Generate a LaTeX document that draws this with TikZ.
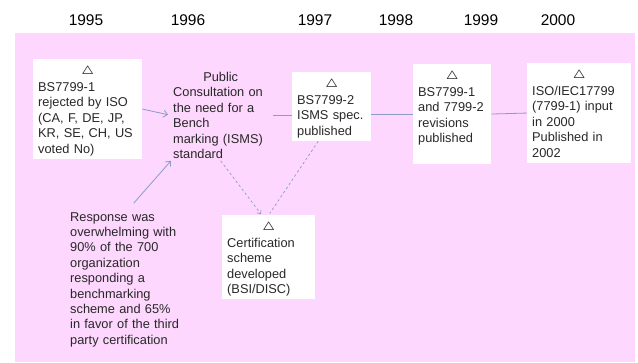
\documentclass[tikz,border=0pt]{standalone}
\usepackage{fontspec}
\setmainfont{Liberation Sans}
\usetikzlibrary{arrows.meta}
\definecolor{bgpink}{RGB}{253,215,253}
\definecolor{linkblue}{RGB}{140,155,200}
\definecolor{txtgray}{RGB}{40,40,40}
\newcommand{\evtri}{\makebox[\hsize]{\rule{0pt}{14pt}\raisebox{1.5pt}{\fontsize{12}{14}\selectfont\boldmath$\triangle$}}}
\newcommand{\evend}{\rule[-2.7pt]{0pt}{1pt}}
\tikzset{
  evbox/.style={fill=white, anchor=north west, align=left, inner xsep=5pt, inner ysep=3pt,
    text=txtgray, font=\fontsize{12.8}{15.4}\selectfont},
  freetext/.style={anchor=north west, align=left, inner sep=2pt,
    text=txtgray, font=\fontsize{12.8}{15.4}\selectfont},
  yearlabel/.style={font=\fontsize{15.5}{18}\selectfont, text=black},
  linkline/.style={draw=linkblue, line width=0.8pt},
  linkarrow/.style={linkline, -{Straight Barb[length=4pt,width=7pt]}},
  linkdash/.style={draw=linkblue, line width=0.7pt, dash pattern=on 2.5pt off 2.5pt}
}

\begin{document}
\begin{tikzpicture}[x=1pt,y=-1pt]
\useasboundingbox (0,0) rectangle (638,363);
% Background:
\fill[bgpink] (15,33) rectangle (635,362);
% Years:
\node (y95) [yearlabel] at (86,20) {1995};
\node (y96) [yearlabel] at (188,20) {1996};
\node (y97) [yearlabel] at (315,20) {1997};
\node (y98) [yearlabel] at (396,20) {1998};
\node (y99) [yearlabel] at (481,20) {1999};
\node (y00) [yearlabel] at (558,20) {2000};
% Events:
\node (bs1) [evbox, text width=99] at (33,59)
  {\evtri\\BS7799-1\\rejected by ISO\\(CA, F, DE, JP,\\KR, SE, CH, US\\voted No)\evend};
\node (pub) [freetext, text width=95] at (171,70)
  {\makebox[\hsize]{Public}\\Consultation on\\the need for a\\Bench\\marking (ISMS)\\standard};
\node (iso97) [evbox, text width=69] at (292,72)
  {\evtri\\BS7799-2\\ISMS spec.\\published\evend};
\node (rev99) [evbox, text width=68] at (413,64)
  {\evtri\\BS7799-1\\and 7799-2\\revisions\\published\\\evend};
\node (iso2k) [evbox, text width=94] at (527,63)
  {\evtri\\ISO/IEC17799\\(7799-1) input\\in 2000\\Published in\\2002\evend};
\node (cert) [evbox, text width=83] at (222,215)
  {\evtri\\Certification\\scheme\\developed\\(BSI/DISC)\evend};
\node (resp) [freetext, text width=115] at (68,210)
  {Response was\\overwhelming with\\90\% of the 700\\organization\\responding a\\benchmarking\\scheme and 65\%\\in favor of the third\\party certification};
% Links:
\draw[linkarrow, shorten >=3pt] (bs1.east) -- (pub.west);
\draw[linkline, shorten <=3pt] (pub.east) -- (pub.east -| iso97.west);
\draw[linkline] (rev99.west -| iso97.east) -- (rev99.west);
\draw[linkline] (rev99.east) -- (iso2k.west);
\draw[linkarrow, shorten <=9pt] (resp.north) -- (pub.south west);
\draw[linkdash, -{Straight Barb[length=3pt,width=5pt]}, shorten >=1pt] (pub.south) -- ([xshift=-7pt]cert.north);
\draw[linkdash, shorten >=2pt] ([xshift=-13.5pt]iso97.south) -- (cert.north);
\end{tikzpicture}
\end{document}
